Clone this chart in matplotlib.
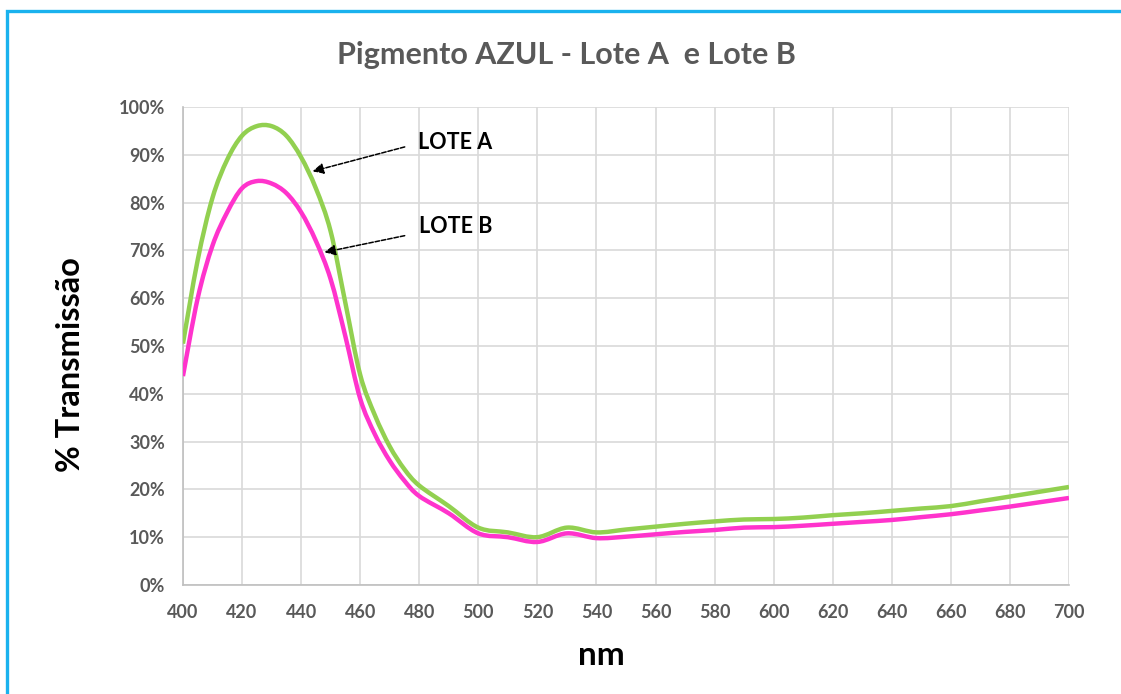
import matplotlib
matplotlib.use("Agg")
from matplotlib import pyplot as plt
from matplotlib.patches import Rectangle, PathPatch
from matplotlib.path import Path

plt.rcParams['font.family'] = ['Lato', 'DejaVu Sans']

# wavelengths (nm) and % transmission
nm_a = [400, 405, 410, 415, 420, 425, 430, 435, 440, 445, 450, 455, 460, 465, 470, 475,
        480, 490, 500, 510, 520, 530, 540, 550, 560, 570, 580, 590, 600, 610, 620, 630,
        640, 650, 660, 670, 680, 690, 700]
lote_a = [50.5, 68, 81, 89, 94, 96, 96, 94, 89.5, 83, 74, 59, 44, 35.5, 29, 24.2,
          20.8, 16.5, 12, 11, 10, 12, 11, 11.6, 12.2, 12.8, 13.3, 13.7, 13.8, 14.1, 14.6, 15.0,
          15.5, 16.0, 16.5, 17.5, 18.5, 19.5, 20.5]
lote_b = [43.7, 60, 71, 78, 83, 84.5, 84, 82, 78, 72, 64, 52, 39, 31.5, 26, 21.8,
          18.6, 15, 10.8, 10, 9, 10.8, 9.8, 10.1, 10.6, 11.1, 11.5, 12, 12.1, 12.4, 12.8, 13.2,
          13.6, 14.2, 14.8, 15.6, 16.4, 17.3, 18.2]

xticks = list(range(400, 701, 20))
yticks = list(range(0, 101, 10))
ylabels = [f"{v}%" for v in yticks]


def smooth_path(x, y):
    # Excel-like smoothed line: Bezier segments through the data points
    verts = [(x[0], y[0])]
    codes = [Path.MOVETO]
    n = len(x)
    for i in range(n - 1):
        i0 = max(i - 1, 0)
        i3 = min(i + 2, n - 1)
        c1 = (x[i] + (x[i + 1] - x[i0]) / 6, y[i] + (y[i + 1] - y[i0]) / 6)
        c2 = (x[i + 1] - (x[i3] - x[i]) / 6, y[i + 1] - (y[i3] - y[i]) / 6)
        verts += [c1, c2, (x[i + 1], y[i + 1])]
        codes += [Path.CURVE4] * 3
    return Path(verts, codes)


fig = plt.figure(figsize=(11.21, 6.94), dpi=100)
ax = fig.add_axes([0.1632, 0.1571, 0.7904, 0.6887])

for yy, col in [(lote_a, '#92D050'), (lote_b, '#FF33CC')]:
    ax.add_patch(PathPatch(smooth_path(nm_a, yy), facecolor='none', edgecolor=col,
                           lw=3.2, joinstyle='round', capstyle='butt', zorder=3))

ax.set_xlim(400, 700)
ax.set_ylim(0, 100)
ax.set_xticks(xticks)
ax.set_yticks(yticks)
ax.set_yticklabels(ylabels)
ax.grid(True, color='#D9D9D9', lw=1.2)
ax.set_axisbelow(True)
for s in ['top', 'right']:
    ax.spines[s].set_visible(False)
for s in ['left', 'bottom']:
    ax.spines[s].set_color('#BFBFBF')
    ax.spines[s].set_linewidth(1.2)
ax.tick_params(length=0, labelsize=13, labelcolor='#595959')
ax.tick_params(axis='y', pad=13)
ax.tick_params(axis='x', pad=14)
for t in ax.get_xticklabels() + ax.get_yticklabels():
    t.set_fontweight('bold')

fig.text(0.505, 0.921, "Pigmento AZUL - Lote A  e Lote B", ha='center', va='center',
         fontsize=22, fontweight='bold', color='#595959')
ax.set_ylabel("% Transmissão", fontsize=23.5, fontweight='bold', color='black', labelpad=24)
ax.set_xlabel("nm", fontsize=24, fontweight='bold', color='black', labelpad=14)
ax.yaxis.label.set_y(0.462)
ax.xaxis.label.set_x(0.472)

arrow = dict(arrowstyle='-|>', linestyle=(0, (3, 1.2)), lw=1.1, color='black', mutation_scale=16)
ax.annotate("", xy=(443, 86.4), xytext=(476, 91.8), arrowprops=arrow)
ax.annotate("", xy=(447, 69.5), xytext=(476, 73.2), arrowprops=arrow)
ax.text(479.6, 92.5, "LOTE A", fontsize=15.5, fontweight='bold', va='center', ha='left')
ax.text(479.9, 74.9, "LOTE B", fontsize=15.5, fontweight='bold', va='center', ha='left')

fig.patches.append(Rectangle((7 / 1121, -0.1), 1.2, 0.1 + (694 - 11) / 694,
                             transform=fig.transFigure, fill=False, edgecolor='#1AB2EE', lw=2.4))

fig.savefig("out.png", dpi=100)
